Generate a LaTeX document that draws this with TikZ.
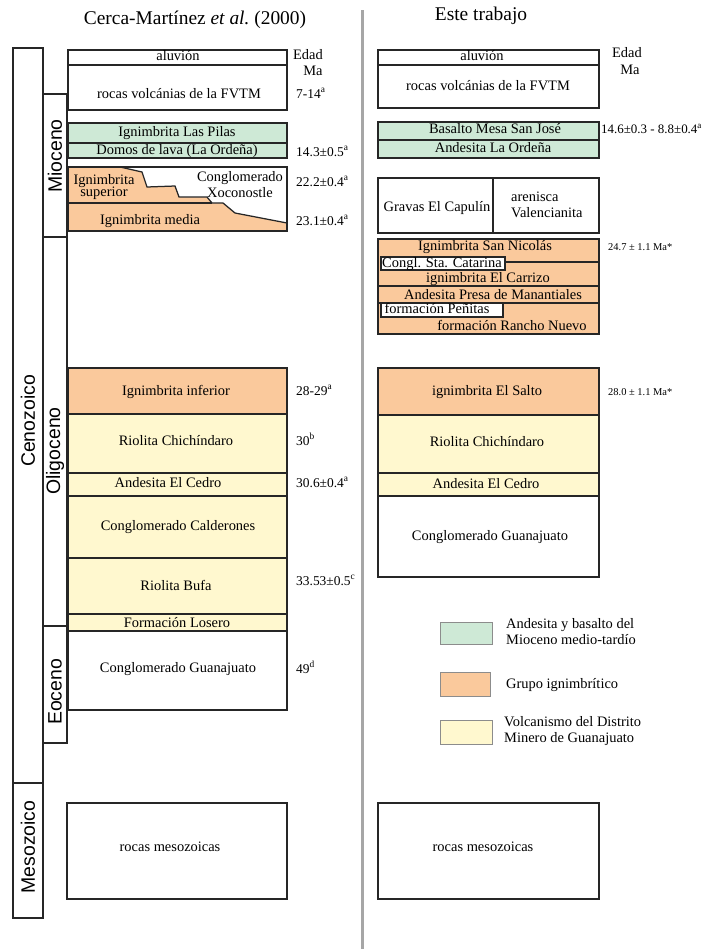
\documentclass[tikz,border=0pt]{standalone}
\usepackage{fontspec}
\setmainfont{Liberation Serif}
\newfontfamily\periodfont{Liberation Sans}
\definecolor{mioverde}{RGB}{206,233,214}
\definecolor{ignnaranja}{RGB}{250,201,156}
\definecolor{dmgamarillo}{RGB}{255,248,207}
\newcommand{\lblsize}{\fontsize{14.5}{13}\selectfont}
\newcommand{\lblsizeb}{\fontsize{14.5}{16}\selectfont}
\newcommand{\agesize}{\fontsize{13.5}{14}\selectfont}
\tikzset{
	unidad/.style={draw=black!85, line width=1.25bp},
	lbl/.style={inner sep=0pt, font=\lblsize, text height=0.72em, text depth=0.08em},
	lbltwo/.style={inner sep=0pt, font=\lblsize, align=center},
	edad/.style={inner sep=0pt, font=\agesize, anchor=west, text height=0.72em, text depth=0.08em},
	edadchica/.style={inner sep=0pt, font=\fontsize{10.5}{11}\selectfont, anchor=west},
	periodo/.style={inner sep=0pt, font=\periodfont\fontsize{19.5}{20}\selectfont, rotate=90},
	titulo/.style={inner sep=0pt, font=\fontsize{19.5}{20}\selectfont},
	leyenda/.style={draw=black!45, line width=0.6bp},
}

\begin{document}
\begin{tikzpicture}[x=1bp,y=-1bp]
	\useasboundingbox (0,0) rectangle (710,949);
	%%%%% TITULOS %%%%%
	\node[titulo] (tizq) at (195,20) {Cerca-Mart\'inez \textit{et al.}\ (2000)};
	\node[titulo] (tder) at (481,16) {Este trabajo};
	\draw[line width=3bp, black!35] (362,10) -- (362,949);
	
	%%%%% ESCALA DE TIEMPO %%%%%
	\draw[unidad] (13,48) rectangle (43,783);
	\draw[unidad] (13,783) rectangle (43,918);
	\draw[unidad] (43,94) rectangle (67,237);
	\draw[unidad] (43,237) rectangle (67,626);
	\draw[unidad] (43,626) rectangle (67,743);
	\node[periodo] (ceno) at (28,421) {Cenozoico};
	\node[periodo] (meso) at (28,847) {Mesozoico};
	\node[periodo] (mio) at (55,156) {Mioceno};
	\node[periodo] (oligo) at (55,451) {Oligoceno};
	\node[periodo] (eoc) at (55,692) {Eoceno};
	
	%%%%% COLUMNA CERCA-MARTINEZ %%%%%
	\draw[unidad] (68,50) rectangle (287,65);
	\draw[unidad] (68,65) rectangle (287,110);
	\draw[unidad, fill=mioverde] (68,123) rectangle (287,143);
	\draw[unidad, fill=mioverde] (68,143) rectangle (287,158);
	
	\fill[ignnaranja] (68,167) rectangle (287,231);
	\fill[white] (120,167) -- (142,172) -- (147,187) -- (175,186) -- (179,197) -- (207,197) -- (212,203) -- (223,203) -- (235,213) -- (287,223) -- (287,167) -- cycle;
	\draw[unidad] (120,167) -- (142,172) -- (147,187) -- (175,186) -- (179,197) -- (207,197) -- (212,203) -- (223,203) -- (235,213) -- (287,223);
	\draw[unidad] (68,203) -- (212,203);
	\draw[unidad] (68,167) rectangle (287,231);
	
	\draw[unidad, fill=ignnaranja] (68,368) rectangle (287,414);
	\draw[unidad, fill=dmgamarillo] (68,414) rectangle (287,473);
	\draw[unidad, fill=dmgamarillo] (68,473) rectangle (287,496);
	\draw[unidad, fill=dmgamarillo] (68,496) rectangle (287,558);
	\draw[unidad, fill=dmgamarillo] (68,558) rectangle (287,614);
	\draw[unidad, fill=dmgamarillo] (68,614) rectangle (287,631);
	\draw[unidad] (68,631) rectangle (287,710);
	\draw[unidad] (67,803) rectangle (287,899);
	
	\node[lbl] (aluvA) at (178,57) {aluvi\'on};
	\node[lbl] (fvtmA) at (179,95) {rocas volc\'anias de la FVTM};
	\node[lbl] (pilas) at (177,133) {Ignimbrita Las Pilas};
	\node[lbl] (domos) at (177,151) {Domos de lava (La Orde\~na)};
	\node[lbltwo] (igsup) at (104,187) {Ignimbrita\\superior};
	\node[lbltwo, font=\lblsizeb] (xoco) at (240,185) {Conglomerado\\Xoconostle};
	\node[lbl] (igmed) at (150,221) {Ignimbrita media};
	\node[lbl] (iginf) at (176,392) {Ignimbrita inferior};
	\node[lbl] (chichA) at (176,442) {Riolita Chich\'indaro};
	\node[lbl] (cedroA) at (168,484) {Andesita El Cedro};
	\node[lbl] (calder) at (178,527) {Conglomerado Calderones};
	\node[lbl] (bufa) at (176,587) {Riolita Bufa};
	\node[lbl] (losero) at (177,624) {Formaci\'on Losero};
	\node[lbl] (guanaA) at (178,669) {Conglomerado Guanajuato};
	\node[lbl] (mesoA) at (170,848) {rocas mesozoicas};
	
	\node[lbl] (edadA) at (308,56) {Edad};
	\node[lbl] (maA) at (313,72) {Ma};
	\node[edad] (e1) at (296,95) {7-14\textsuperscript{a}};
	\node[edad] (e2) at (296,153) {14.3±0.5\textsuperscript{a}};
	\node[edad] (e3) at (296,183) {22.2±0.4\textsuperscript{a}};
	\node[edad] (e4) at (296,222) {23.1±0.4\textsuperscript{a}};
	\node[edad] (e5) at (296,392) {28-29\textsuperscript{a}};
	\node[edad] (e6) at (296,442) {30\textsuperscript{b}};
	\node[edad] (e7) at (296,484) {30.6±0.4\textsuperscript{a}};
	\node[edad] (e8) at (296,582) {33.53±0.5\textsuperscript{c}};
	\node[edad] (e9) at (296,670) {49\textsuperscript{d}};
	
	%%%%% COLUMNA ESTE TRABAJO %%%%%
	\draw[unidad] (378,50) rectangle (599,65);
	\draw[unidad] (378,65) rectangle (599,108);
	\draw[unidad, fill=mioverde] (378,122) rectangle (599,140);
	\draw[unidad, fill=mioverde] (378,140) rectangle (599,158);
	\draw[unidad] (378,178) rectangle (599,233);
	\draw[unidad] (493,178) -- (493,233);
	
	\draw[unidad, fill=ignnaranja] (378,239) rectangle (599,334);
	\draw[unidad] (505,262) -- (599,262);
	\draw[unidad] (378,286) -- (599,286);
	\draw[unidad] (378,303) -- (599,303);
	\draw[unidad, fill=white] (381,257) rectangle (505,270);
	\draw[unidad, fill=white] (381,303) rectangle (503,317);
	
	\draw[unidad, fill=ignnaranja] (378,368) rectangle (599,415);
	\draw[unidad, fill=dmgamarillo] (378,415) rectangle (599,473);
	\draw[unidad, fill=dmgamarillo] (378,473) rectangle (599,496);
	\draw[unidad] (378,496) rectangle (599,577);
	\draw[unidad] (378,803) rectangle (599,899);
	
	\node[lbl] (aluvB) at (482,57) {aluvi\'on};
	\node[lbl] (fvtmB) at (488,87) {rocas volc\'anias de la FVTM};
	\node[lbl] (mesasj) at (495,130) {Basalto Mesa San Jos\'e};
	\node[lbl] (ordena) at (493,149) {Andesita La Orde\~na};
	\node[lbl] (gravas) at (437,208) {Gravas El Capul\'in};
	\node[lbltwo, align=left, anchor=west, font=\lblsizeb] (arenisca) at (511,205) {arenisca\\Valencianita};
	\node[lbl] (sannic) at (485,247) {Ignimbrita San Nicol\'as};
	\node[lbl] (catarina) at (442,264) {Congl. Sta. Catarina};
	\node[lbl] (carrizo) at (488,279) {ignimbrita El Carrizo};
	\node[lbl] (manant) at (493,296) {Andesita Presa de Manantiales};
	\node[lbl] (penitas) at (437,310) {formaci\'on Pe\~nitas};
	\node[lbl] (rancho) at (512,327) {formaci\'on Rancho Nuevo};
	\node[lbl] (salto) at (487,392) {ignimbrita El Salto};
	\node[lbl] (chichB) at (487,443) {Riolita Chich\'indaro};
	\node[lbl] (cedroB) at (486,485) {Andesita El Cedro};
	\node[lbl] (guanaB) at (490,537) {Conglomerado Guanajuato};
	\node[lbl] (mesoB) at (483,848) {rocas mesozoicas};
	
	\node[lbl] (edadB) at (627,54) {Edad};
	\node[lbl] (maB) at (630,71) {Ma};
	\node[edad, font=\fontsize{13}{14}\selectfont] (f1) at (601,130) {14.6±0.3 - 8.8±0.4\textsuperscript{a}};
	\node[edadchica] (f2) at (608,247) {24.7 ± 1.1 Ma*};
	\node[edadchica] (f3) at (608,392) {28.0 ± 1.1 Ma*};
	
	%%%%% LEYENDA %%%%%
	\draw[leyenda, fill=mioverde] (440,622) rectangle (492,644);
	\draw[leyenda, fill=ignnaranja] (440,672) rectangle (490,696);
	\draw[leyenda, fill=dmgamarillo] (440,720) rectangle (492,744);
	\node[lbltwo, align=left, anchor=west, font=\lblsizeb] (leyverde) at (506,632) {Andesita y basalto del\\Mioceno medio-tard\'io};
	\node[lbl, anchor=west] (leynaranja) at (506,685) {Grupo ignimbr\'itico};
	\node[lbltwo, align=left, anchor=west, font=\lblsizeb] (leyamarillo) at (504,731) {Volcanismo del Distrito\\Minero de Guanajuato};
\end{tikzpicture}
\end{document}
